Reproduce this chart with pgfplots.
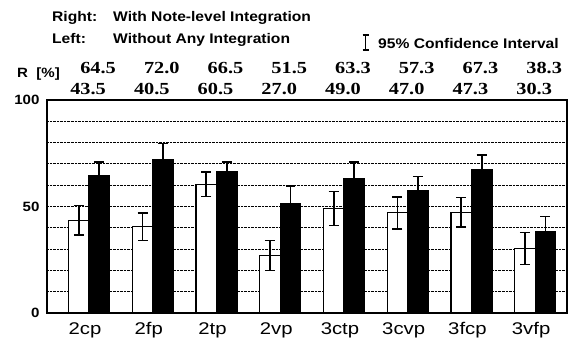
\documentclass[border=0pt]{standalone}
\usepackage{pgfplots}
\usepackage{pgfplotstable}
\pgfplotsset{compat=1.18}
\usepackage{fontspec}
\setmainfont{Liberation Sans}
\newfontfamily\lsans[FakeStretch=1.12]{Liberation Sans}
\newfontfamily\lsanswide[FakeStretch=1.2]{Liberation Sans}
\newfontfamily\lserif[FakeStretch=1.2]{Liberation Serif}

% Left bars: Without Any Integration (x = group - 0.161)
\pgfplotstableread{
x y e
-0.161 43.5 7.0
0.839 40.5 6.5
1.839 60.5 5.8
2.839 27.0 7.0
3.839 49.0 8.0
4.839 47.0 7.5
5.839 47.3 7.0
6.839 30.3 7.5
}\leftdata
% Right bars: With Note-level Integration (x = group + 0.161)
\pgfplotstableread{
x y e
0.161 64.5 6.3
1.161 72.0 7.5
2.161 66.5 4.3
3.161 51.5 8.0
4.161 63.3 7.5
5.161 57.3 6.8
6.161 67.3 6.8
7.161 38.3 7.0
}\rightdata

\begin{document}
\begin{tikzpicture}
\begin{axis}[
  name=ax,
  scale only axis, width=520bp, height=213bp,
  xmin=-0.66, xmax=7.5, ymin=0, ymax=100,
  xtick={0,...,7},
  xticklabels={2cp,2fp,2tp,2vp,3ctp,3cvp,3fcp,3vfp},
  x tick label style={font=\lsanswide\fontsize{17}{20}\selectfont, yshift=-6bp, xshift=-4bp},
  ytick={0,10,...,100},
  yticklabels={0,,,,,50,,,,,100},
  y tick label style={font=\lsans\bfseries\fontsize{13.5}{15}\selectfont, xshift=-4bp},
  major tick length=0pt,
  ymajorgrids,
  grid style={densely dotted, black, line width=0.8pt},
  axis line style={line width=1.4pt},
  clip=false,
]
\addplot[ybar, bar width=20.5bp, bar shift=0pt, fill=white, draw=black, line width=1.2pt,
  error bars/.cd, y dir=both, y explicit,
  error bar style={line width=1.8pt, black},
  error mark options={rotate=90, mark size=5pt, line width=1.6pt, black}]
  table[x=x, y=y, y error=e]{\leftdata};
\addplot[ybar, bar width=20.5bp, bar shift=0pt, fill=black, draw=black, line width=1.2pt,
  error bars/.cd, y dir=both, y explicit,
  error bar style={line width=1.8pt, black},
  error mark options={rotate=90, mark size=5pt, line width=1.6pt, black}]
  table[x=x, y=y, y error=e]{\rightdata};
% value rows above the axis
\addplot[only marks, mark=none, nodes near coords, point meta=explicit symbolic,
  every node near coord/.append style={anchor=base, yshift=26bp, xshift=9bp,
    font=\lserif\bfseries\fontsize{17}{19}\selectfont}]
  coordinates {(0,100)[64.5] (1,100)[72.0] (2,100)[66.5] (3,100)[51.5]
               (4,100)[63.3] (5,100)[57.3] (6,100)[67.3] (7,100)[38.3]};
\addplot[only marks, mark=none, nodes near coords, point meta=explicit symbolic,
  every node near coord/.append style={anchor=base, yshift=5bp, xshift=-1bp,
    font=\lserif\bfseries\fontsize{17}{19}\selectfont}]
  coordinates {(0,100)[43.5] (1,100)[40.5] (2,100)[60.5] (3,100)[27.0]
               (4,100)[49.0] (5,100)[47.0] (6,100)[47.3] (7,100)[30.3]};
\end{axis}
% texts
\node[anchor=base west, inner sep=0pt, font=\lsans\bfseries\fontsize{13.5}{15}\selectfont]
  at ([xshift=-30bp, yshift=22bp]ax.north west) {R\ \ [\%]};
\node[anchor=base west, inner sep=0pt, font=\lsans\bfseries\fontsize{14}{16}\selectfont]
  at ([xshift=5bp, yshift=78bp]ax.north west) {Right:};
\node[anchor=base west, inner sep=0pt, font=\lsans\bfseries\fontsize{14}{16}\selectfont]
  at ([xshift=66bp, yshift=78bp]ax.north west) {With Note-level Integration};
\node[anchor=base west, inner sep=0pt, font=\lsans\bfseries\fontsize{14}{16}\selectfont]
  at ([xshift=5bp, yshift=56bp]ax.north west) {Left:};
\node[anchor=base west, inner sep=0pt, font=\lsans\bfseries\fontsize{14}{16}\selectfont]
  at ([xshift=66bp, yshift=56bp]ax.north west) {Without Any Integration};
\draw[line width=1.4pt]
  ([xshift=315.5bp, yshift=50bp]ax.north west) -- ([xshift=321.5bp, yshift=50bp]ax.north west)
  ([xshift=318.5bp, yshift=50bp]ax.north west) -- ([xshift=318.5bp, yshift=65bp]ax.north west)
  ([xshift=315.5bp, yshift=65bp]ax.north west) -- ([xshift=321.5bp, yshift=65bp]ax.north west);
\node[anchor=base west, inner sep=0pt, font=\lsans\bfseries\fontsize{14}{16}\selectfont]
  at ([xshift=331bp, yshift=51bp]ax.north west) {95\% Confidence Interval};
% page frame
\path ([xshift=-47bp, yshift=-39bp]ax.south west) rectangle ([xshift=14bp, yshift=100bp]ax.north east);
\end{tikzpicture}
\end{document}
